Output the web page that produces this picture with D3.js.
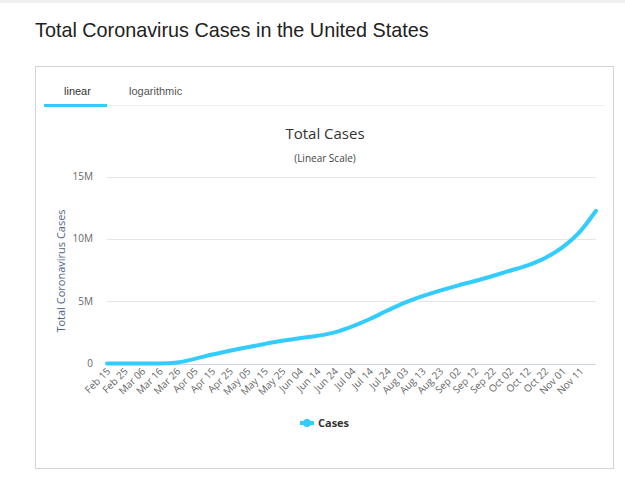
<!DOCTYPE html>
<html>
<head>
<meta charset="utf-8">
<script src="https://cdn.jsdelivr.net/npm/d3@7"></script>
<style>
  body { margin: 0; background: #fff; }
  svg { display: block; }
</style>
</head>
<body>
<div id="canvas"></div>
<script>
"use strict";

// Data (total US cases, in millions)
let sampleDates = ["2020-02-15","2020-02-25","2020-03-06","2020-03-16","2020-03-26","2020-04-05",
  "2020-04-15","2020-04-25","2020-05-05","2020-05-15","2020-05-25","2020-06-04","2020-06-14",
  "2020-06-24","2020-07-04","2020-07-14","2020-07-24","2020-08-03","2020-08-13","2020-08-23",
  "2020-09-02","2020-09-12","2020-09-22","2020-10-02","2020-10-12","2020-10-22","2020-11-01",
  "2020-11-11","2020-11-20"];
let totalCases = [0, 0, 0.0003, 0.005, 0.08, 0.37, 0.72, 1.02, 1.3, 1.57, 1.82, 2.03, 2.22,
  2.5, 2.98, 3.57, 4.25, 4.88, 5.4, 5.85, 6.25, 6.62, 7.02, 7.44, 7.88, 8.47, 9.34, 10.6, 12.25];
let tickLabels = ["Feb 15","Feb 25","Mar 06","Mar 16","Mar 26","Apr 05","Apr 15","Apr 25",
  "May 05","May 15","May 25","Jun 04","Jun 14","Jun 24","Jul 04","Jul 14","Jul 24","Aug 03",
  "Aug 13","Aug 23","Sep 02","Sep 12","Sep 22","Oct 02","Oct 12","Oct 22","Nov 01","Nov 11"];
let yTicks = [0, 5, 10, 15];

let svgWidth = 625, svgHeight = 482;
let plot = { left: 107, right: 596, top: 176.5, bottom: 363.5 };
let lineColor = "#33ccff";

let parse = d3.timeParse("%Y-%m-%d");
let points = sampleDates.map(function(d, i){ return { date: parse(d), value: totalCases[i] }; });

let svg = d3.select("#canvas").append("svg")
  .attr("width", svgWidth)
  .attr("height", svgHeight)
  .style("font-family", "'Open Sans', 'Noto Sans', sans-serif");

// page chrome
svg.append("rect").attr("x", 0).attr("y", 0).attr("width", svgWidth).attr("height", 3).attr("fill", "#efefef");

svg.append("text")
  .attr("x", 35).attr("y", 37)
  .style("font-family", "'Liberation Sans', Arial, sans-serif")
  .style("font-size", "19.8px")
  .attr("fill", "#222")
  .text("Total Coronavirus Cases in the United States");

svg.append("rect")
  .attr("x", 35.5).attr("y", 66.5)
  .attr("width", 578).attr("height", 402)
  .attr("fill", "#fff").attr("stroke", "#d4d4d4");

// tabs
svg.append("line").attr("x1", 44).attr("x2", 605).attr("y1", 105.5).attr("y2", 105.5).attr("stroke", "#eee");
svg.append("rect").attr("x", 44).attr("y", 104).attr("width", 63).attr("height", 3).attr("fill", lineColor);
svg.append("text").attr("x", 64).attr("y", 95)
  .style("font-family", "'Liberation Sans', Arial, sans-serif").style("font-size", "11px")
  .attr("fill", "#333").text("linear");
svg.append("text").attr("x", 129).attr("y", 95)
  .style("font-family", "'Liberation Sans', Arial, sans-serif").style("font-size", "11px")
  .attr("fill", "#555").text("logarithmic");

// chart titles
svg.append("text").attr("x", 325).attr("y", 139).attr("text-anchor", "middle")
  .style("font-size", "15px").attr("fill", "#333").text("Total Cases");
svg.append("text").attr("x", 325).attr("y", 162).attr("text-anchor", "middle")
  .style("font-size", "10px").attr("fill", "#444").text("(Linear Scale)");

// Scales
let xScale = d3.scaleTime()
  .domain([points[0].date, points[points.length - 1].date])
  .range([plot.left, plot.right]);
let yScale = d3.scaleLinear().domain([0, 15]).range([plot.bottom, plot.top]);

// grid + y labels
let yAxis = svg.append("g");
yTicks.forEach(function(t){
  if (t > 0) {
    yAxis.append("line")
      .attr("x1", plot.left).attr("x2", plot.right)
      .attr("y1", Math.round(yScale(t)) + 0.5).attr("y2", Math.round(yScale(t)) + 0.5)
      .attr("stroke", "#e6e6e6");
  }
  yAxis.append("text")
    .attr("x", 93).attr("y", yScale(t)).attr("dy", "0.35em")
    .attr("text-anchor", "end")
    .style("font-size", "10px").attr("fill", "#666")
    .text(t === 0 ? "0" : t + "M");
});
svg.append("line")
  .attr("x1", plot.left).attr("x2", plot.right)
  .attr("y1", 364.5).attr("y2", 364.5)
  .attr("stroke", "#ccd6eb");

// x labels (every 10 days)
let tickDates = tickLabels.map(function(l){ return d3.timeParse("%b %d %Y")(l + " 2020"); });
let xAxis = svg.append("g");
tickDates.forEach(function(d, i){
  let x = xScale(d);
  xAxis.append("text")
    .attr("transform", "translate(" + (x + 4) + ",372) rotate(-45)")
    .attr("text-anchor", "end")
    .style("font-size", "10px").attr("fill", "#666")
    .text(tickLabels[i]);
});

// y axis title
svg.append("text")
  .attr("transform", "translate(65,271) rotate(-90)")
  .attr("text-anchor", "middle")
  .style("font-size", "11px").attr("fill", "#4f6688")
  .text("Total Coronavirus Cases");

// line
let line = d3.line()
  .x(function(d){ return xScale(d.date); })
  .y(function(d){ return yScale(d.value); })
  .curve(d3.curveMonotoneX);
svg.append("path")
  .datum(points)
  .attr("d", line)
  .attr("fill", "none")
  .attr("stroke", lineColor)
  .attr("stroke-width", 4)
  .attr("stroke-linejoin", "round")
  .attr("stroke-linecap", "round");

// legend
let legend = svg.append("g");
legend.append("line").attr("x1", 300).attr("x2", 314).attr("y1", 423).attr("y2", 423)
  .attr("stroke", lineColor).attr("stroke-width", 4);
legend.append("circle").attr("cx", 307).attr("cy", 423).attr("r", 4).attr("fill", lineColor);
legend.append("text").attr("x", 318).attr("y", 427)
  .style("font-size", "11px").style("font-weight", "700").attr("fill", "#333")
  .text("Cases");
</script>
</body>
</html>
